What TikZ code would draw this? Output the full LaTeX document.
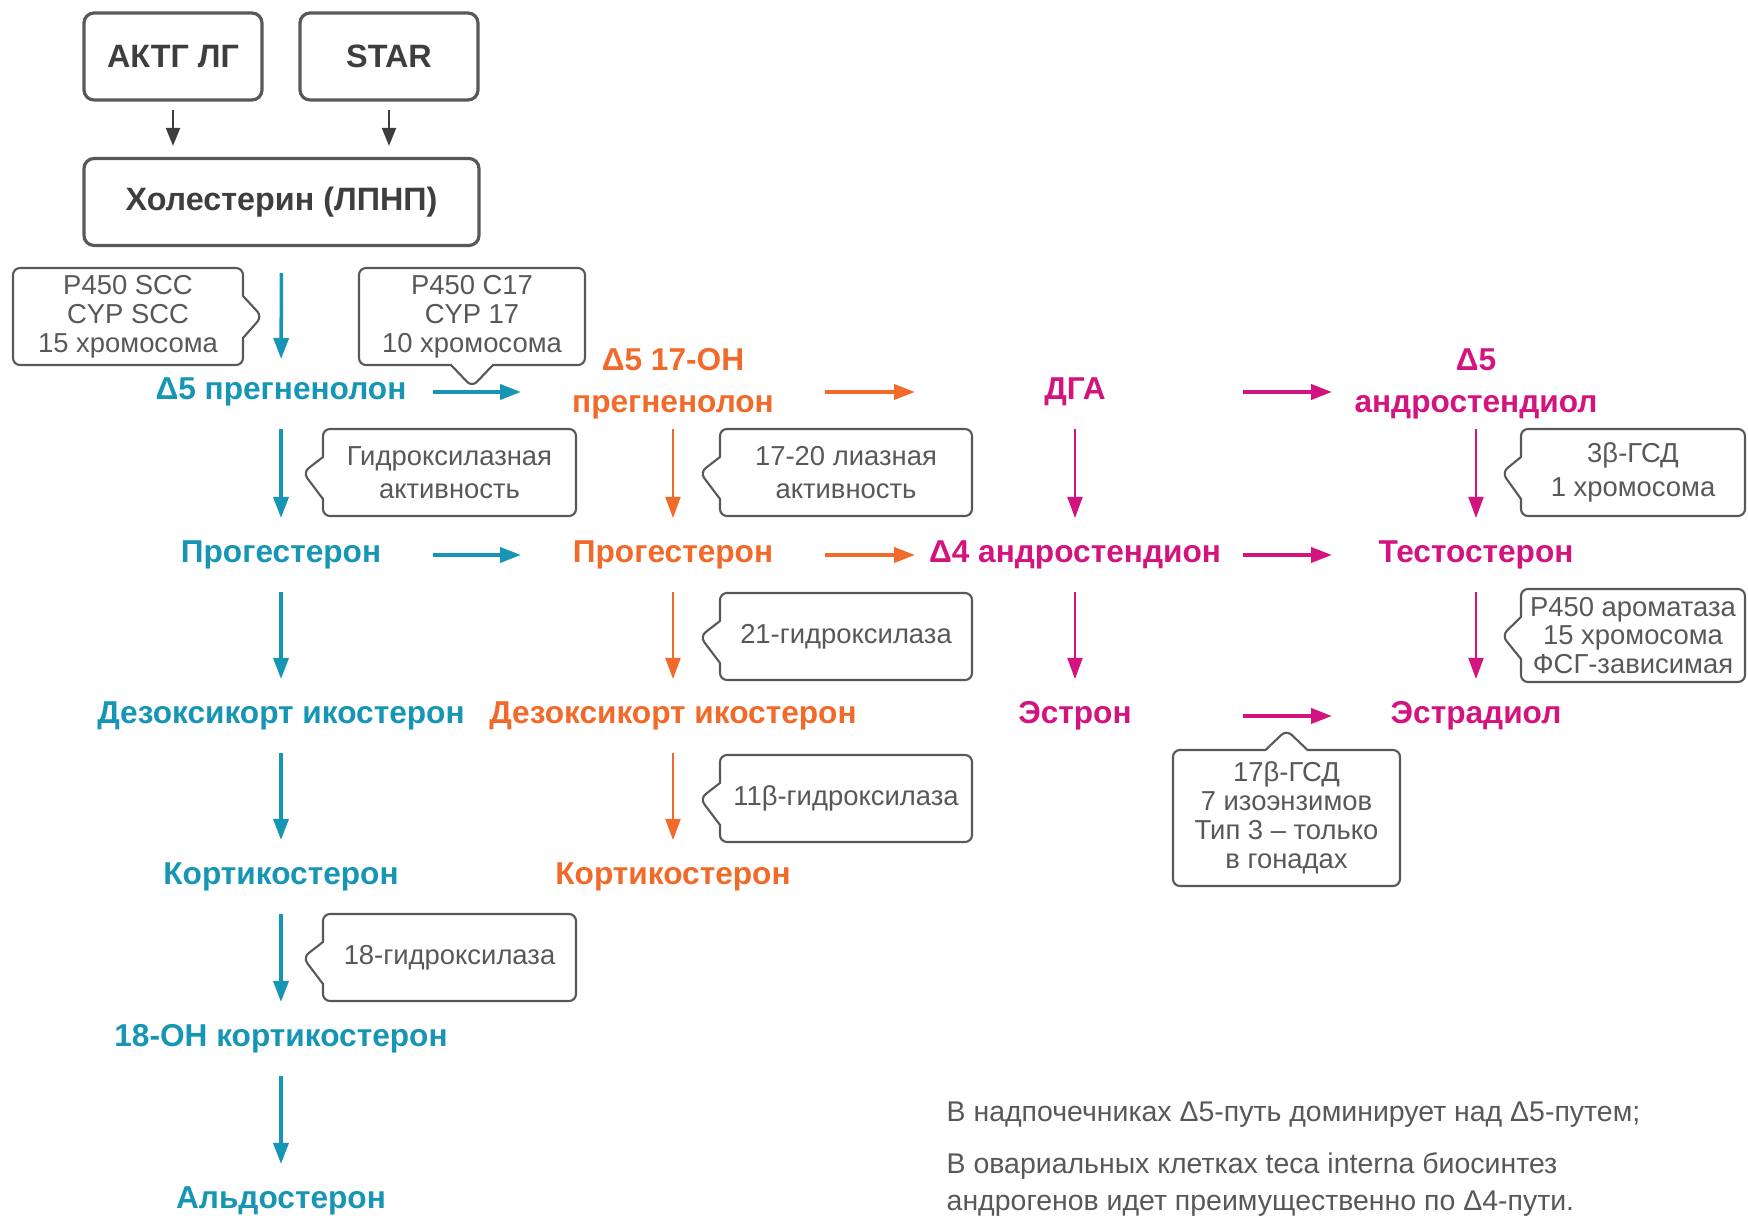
\documentclass[tikz,border=0pt]{standalone}
\usepackage{fontspec}
\setmainfont{Liberation Sans}
\definecolor{stcyan}{RGB}{22,150,180}
\definecolor{storange}{RGB}{242,106,42}
\definecolor{stmagenta}{RGB}{212,20,126}
\definecolor{stgray}{RGB}{88,88,88}
\usetikzlibrary{arrows.meta,positioning,shapes.callouts}

\begin{document}
\begin{tikzpicture}[
  box/.style={draw=stgray, line width=0.9pt, rounded corners=1mm, minimum height=0.87cm, font=\fontsize{9.2}{11}\selectfont\bfseries, text=stgray!70!black},
  lbl/.style={font=\fontsize{9}{12}\selectfont\bfseries, align=center, inner sep=0pt},
  note/.style={rectangle callout, draw=stgray, line width=0.6pt, rounded corners=0.7mm, callout pointer width=0.42cm, minimum height=0.87cm, align=center, inner sep=1pt, font=\fontsize{7.8}{8.2}\selectfont, text=stgray},
  two/.style={font=\fontsize{7.8}{9.5}\selectfont},
  head/.style={-{Triangle[length=2.1mm,width=1.5mm]}},
  vcy/.style={head, stcyan, line width=1pt, shorten <=3.7mm, shorten >=3.7mm},
  vor/.style={head, storange, line width=0.6pt, shorten <=3.7mm, shorten >=3.7mm},
  vmg/.style={head, stmagenta, line width=0.6pt, shorten <=3.7mm, shorten >=3.7mm},
  hcy/.style={head, stcyan, line width=1.1pt, shorten <=1.52cm, shorten >=1.52cm},
  hor/.style={head, storange, line width=1.1pt, shorten <=1.52cm, shorten >=1.6cm},
  hmg/.style={head, stmagenta, line width=1.1pt, shorten <=1.68cm, shorten >=1.44cm},
  blk/.style={-{Triangle[length=1.8mm,width=1.4mm]}, stgray!70!black, line width=0.6pt, shorten <=0.8mm, shorten >=1.1mm}
]
  \useasboundingbox (0,0) rectangle (17.48,-12.25);

  %% top boxes
  \node[box, minimum width=1.78cm] (actg) at (1.73,-0.565) {АКТГ ЛГ};
  \node[box, minimum width=1.78cm] (star) at (3.89,-0.565) {STAR};
  \node[box, minimum width=3.95cm] (chol) at (2.815,-2.02) {Холестерин (ЛПНП)};
  \draw[blk] (actg.south) -- (actg.south |- chol.north);
  \draw[blk] (star.south) -- (star.south |- chol.north);

  %% column 1 (cyan)
  \node[lbl, text=stcyan] (preg1) at (2.81,-3.92) {Δ5 прегненолон};
  \node[lbl, text=stcyan] (prog1) at (2.81,-5.55) {Прогестерон};
  \node[lbl, text=stcyan] (dez1) at (2.81,-7.16) {Дезоксикорт икостерон};
  \node[lbl, text=stcyan] (cort1) at (2.81,-8.77) {Кортикостерон};
  \node[lbl, text=stcyan] (oh18) at (2.81,-10.39) {18-OH кортикостерон};
  \node[lbl, text=stcyan] (ald) at (2.81,-12.01) {Альдостерон};

  %% column 2 (orange)
  \node[lbl, text=storange] (oh17) at (6.73,-3.84) {Δ5 17-OH\\прегненолон};
  \node[lbl, text=storange] (prog2) at (6.73,-5.55) {Прогестерон};
  \node[lbl, text=storange] (dez2) at (6.73,-7.16) {Дезоксикорт икостерон};
  \node[lbl, text=storange] (cort2) at (6.73,-8.77) {Кортикостерон};

  %% columns 3 and 4 (magenta)
  \node[lbl, text=stmagenta] (dga) at (10.75,-3.92) {ДГА};
  \node[lbl, text=stmagenta] (and4) at (10.75,-5.55) {Δ4 андростендион};
  \node[lbl, text=stmagenta] (estr) at (10.75,-7.16) {Эстрон};
  \node[lbl, text=stmagenta] (and5) at (14.76,-3.84) {Δ5\\андростендиол};
  \node[lbl, text=stmagenta] (test) at (14.76,-5.55) {Тестостерон};
  \node[lbl, text=stmagenta] (estd) at (14.76,-7.16) {Эстрадиол};

  %% enzyme callouts
  \node[note, minimum width=2.30cm, minimum height=0.97cm, callout relative pointer={(0.19,0)}] (scc) at (1.28,-3.165) {P450 SCC\\CYP SCC\\15 хромосома};
  \node[note, minimum width=2.26cm, minimum height=0.97cm, callout relative pointer={(0,-0.22)}] (c17) at (4.72,-3.165) {P450 C17\\CYP 17\\10 хромосома};
  \node[note, two, minimum width=2.53cm, callout relative pointer={(-0.2,0)}] (hydr) at (4.495,-4.725) {Гидроксилазная\\активность};
  \node[note, two, minimum width=2.52cm, callout relative pointer={(-0.2,0)}] (lyase) at (8.46,-4.725) {17-20 лиазная\\активность};
  \node[note, two, minimum width=2.24cm, callout relative pointer={(-0.19,0)}] (hsd3) at (16.33,-4.725) {3β-ГСД\\1 хромосома};
  \node[note, minimum width=2.52cm, callout relative pointer={(-0.2,0)}] (h21) at (8.46,-6.365) {21-гидроксилаза};
  \node[note, minimum width=2.24cm, minimum height=0.93cm, callout relative pointer={(-0.19,0)}] (arom) at (16.33,-6.355) {P450 ароматаза\\15 хромосома\\ФСГ-зависимая};
  \node[note, minimum width=2.52cm, callout relative pointer={(-0.2,0)}] (h11) at (8.46,-7.985) {11β-гидроксилаза};
  \node[note, minimum width=2.53cm, callout relative pointer={(-0.2,0)}] (h18) at (4.495,-9.575) {18-гидроксилаза};
  \node[note, minimum width=2.27cm, minimum height=1.36cm, callout relative pointer={(0,0.2)}] (hsd17) at (12.865,-8.18) {17β-ГСД\\7 изоэнзимов\\Тип 3 – только\\в гонадах};

  %% vertical arrows
  \draw[vcy, shorten <=2.6mm, shorten >=3.3mm] (chol.south) -- (preg1.center);
  \draw[vcy] (preg1.center) -- (prog1.center);
  \draw[vcy] (prog1.center) -- (dez1.center);
  \draw[vcy] (dez1.center) -- (cort1.center);
  \draw[vcy] (cort1.center) -- (oh18.center);
  \draw[vcy] (oh18.center) -- (ald.center);
  \draw[vor, shorten <=4.5mm] (oh17.center) -- (prog2.center);
  \draw[vor] (prog2.center) -- (dez2.center);
  \draw[vor] (dez2.center) -- (cort2.center);
  \draw[vmg] (dga.center) -- (and4.center);
  \draw[vmg] (and4.center) -- (estr.center);
  \draw[vmg, shorten <=4.5mm] (and5.center) -- (test.center);
  \draw[vmg] (test.center) -- (estd.center);

  %% horizontal arrows
  \draw[hcy] (preg1.center) -- (preg1.center -| oh17);
  \draw[hcy] (prog1.center) -- (prog2.center);
  \draw[hor] (dga.center -| oh17) -- (dga.center);
  \draw[hor] (prog2.center) -- (and4.center);
  \draw[hmg] (dga.center) -- (dga.center -| and5);
  \draw[hmg] (and4.center) -- (test.center);
  \draw[hmg] (estr.center) -- (estd.center);

  %% footnote
  \node[anchor=west, inner sep=0pt, text=stgray, font=\fontsize{8.1}{10.5}\selectfont] (rem1) at (9.46,-11.15) {В надпочечниках Δ5-путь доминирует над Δ5-путем;};
  \node[anchor=north west, inner sep=0pt, align=left, text=stgray, font=\fontsize{8.1}{10.5}\selectfont] (rem2) at (9.46,-11.52) {В овариальных клетках teca interna биосинтез\\андрогенов идет преимущественно по Δ4-пути.};
\end{tikzpicture}
\end{document}
